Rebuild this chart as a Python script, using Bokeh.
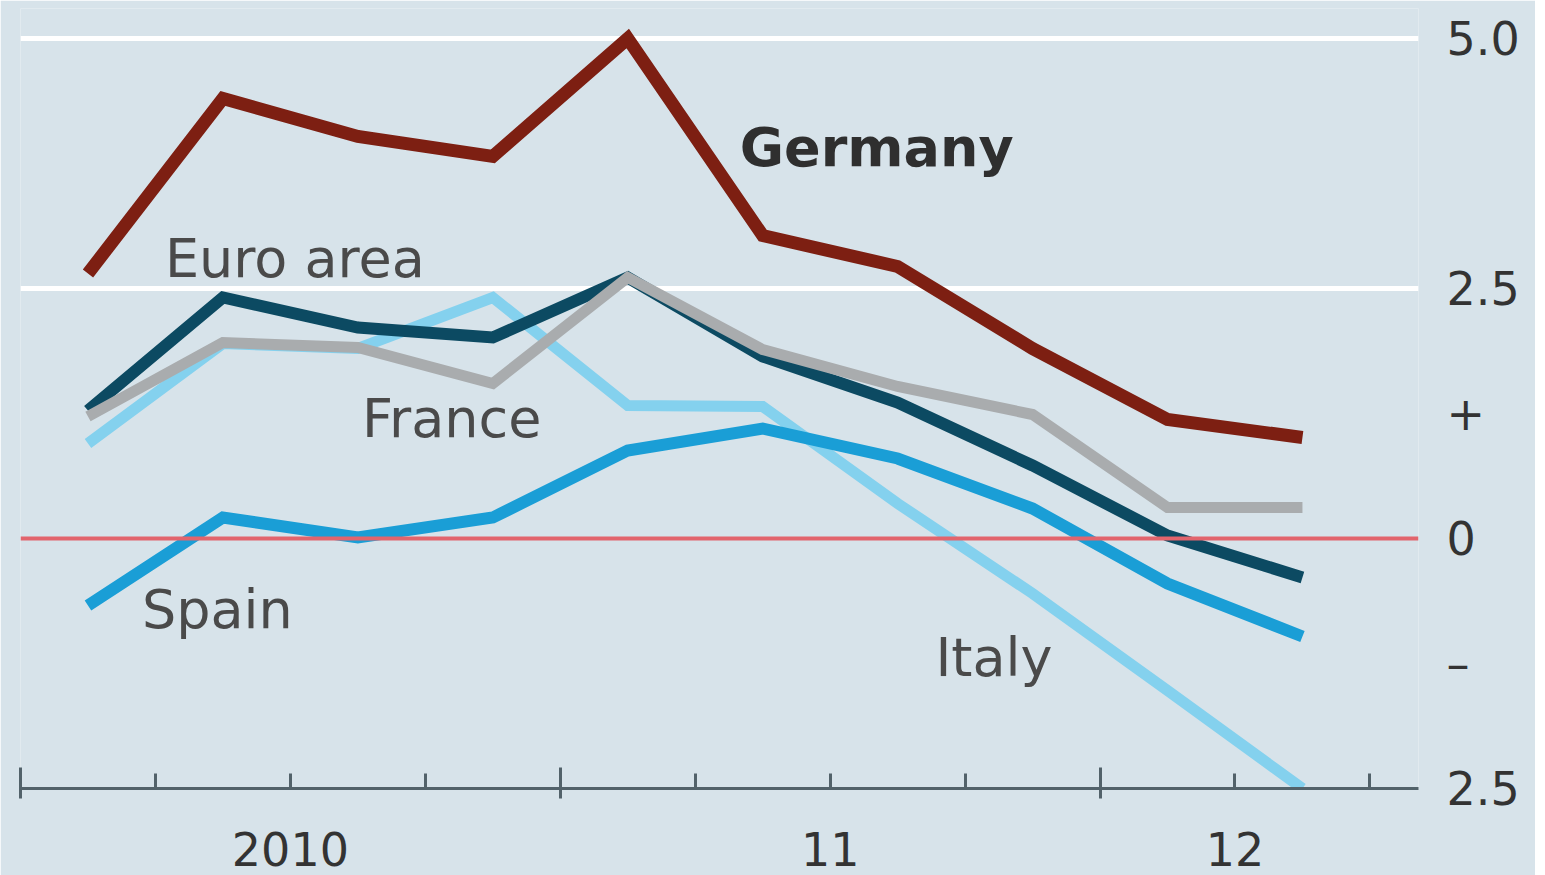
from bokeh.plotting import figure
from bokeh.models import Range1d, FixedTicker, LinearAxis, Span
from bokeh.core.properties import value
from bokeh.embed import file_html
from bokeh.resources import INLINE

# ---------------- data ----------------
quarters = ["2010 Q1", "2010 Q2", "2010 Q3", "2010 Q4",
            "2011 Q1", "2011 Q2", "2011 Q3", "2011 Q4",
            "2012 Q1", "2012 Q2"]
germany   = [2.65, 4.40, 4.02, 3.82, 5.00, 3.03, 2.72, 1.90, 1.19, 1.01]
euro_area = [1.28, 2.41, 2.11, 2.01, 2.61, 1.82, 1.36, 0.73, 0.03, -0.39]
france    = [1.22, 1.96, 1.91, 1.55, 2.61, 1.89, 1.52, 1.24, 0.31, 0.31]
italy     = [0.95, 1.95, 1.90, 2.41, 1.33, 1.32, 0.35, -0.55, -1.52, -2.50]
spain     = [-0.67, 0.21, 0.01, 0.21, 0.88, 1.10, 0.80, 0.30, -0.45, -0.98]

year_labels = ["2010", "11", "12"]
y_tick_values = [-2.5, -1.25, 0.0, 1.25, 2.5, 5.0]
y_tick_labels = ["2.5", "\u2013", "0", "+", "2.5", "5.0"]

# ---------------- derived positions ----------------
x = [i + 0.5 for i in range(len(quarters))]
year_starts = [float(i) for i, q in enumerate(quarters) if q.endswith("Q1")]
year_pos = []
for yl in year_labels:
    short = yl[-2:]
    xs = [xi for xi, q in zip(x, quarters) if q[2:4] == short]
    year_pos.append(sum(xs) / len(xs))
minor = [float(i) for i in range(1, 11) if float(i) not in year_starts]

BG = "#d7e3ea"
FONT = "DejaVu Sans"
AXC = "#52626a"

p = figure(frame_width=1398, frame_height=780,
           x_range=Range1d(0, 10.36), y_range=Range1d(-2.5, 5.3),
           output_backend="svg", toolbar_location=None,
           y_axis_location="right",
           min_border_left=20, min_border_right=117,
           min_border_top=8, min_border_bottom=87,
           background_fill_color=BG, border_fill_color=BG,
           outline_line_color=None)

# grid
p.xgrid.grid_line_color = None
p.ygrid[0].ticker = FixedTicker(ticks=[2.5, 5.0])
p.ygrid.grid_line_color = "white"
p.ygrid.grid_line_width = 5
p.add_layout(Span(location=0, dimension="width", line_color="#e2646c", line_width=4))

# x axis (ticks)
xa = p.xaxis[0]
xa.ticker = FixedTicker(ticks=year_starts, minor_ticks=minor)
xa.axis_line_color = AXC
xa.axis_line_width = 3
xa.major_tick_line_color = AXC
xa.major_tick_line_width = 3
xa.major_tick_in = 21
xa.major_tick_out = 10
xa.minor_tick_line_color = AXC
xa.minor_tick_line_width = 3
xa.minor_tick_in = 15
xa.minor_tick_out = 0
xa.major_label_overrides = {t: "" for t in year_starts}
xa.major_label_text_font_size = "1px"
xa.major_label_standoff = 0

# x axis (year labels)
xl = LinearAxis(ticker=FixedTicker(ticks=year_pos),
                major_label_overrides=dict(zip(year_pos, year_labels)),
                axis_line_color=None, major_tick_line_color=None,
                minor_tick_line_color=None,
                major_label_text_font=FONT,
                major_label_text_font_size="46px",
                major_label_text_color="#333333",
                major_label_standoff=27)
p.add_layout(xl, "below")

# y axis on right
ya = p.yaxis[0]
ya.ticker = FixedTicker(ticks=y_tick_values)
ya.major_label_overrides = dict(zip(y_tick_values, y_tick_labels))
ya.axis_line_color = None
ya.major_tick_line_color = None
ya.minor_tick_line_color = None
ya.major_label_standoff = 22
ya.major_label_text_font = FONT
ya.major_label_text_font_size = "46px"
ya.major_label_text_color = "#333333"

# lines
series = [
    (italy, "#84d1ee", 11),
    (spain, "#1a9ed6", 12),
    (euro_area, "#0c4a62", 12),
    (france, "#a9acae", 11),
    (germany, "#7d1f12", 13),
]
for vals, col, w in series:
    p.line(x, vals, line_color=col, line_width=w, line_join="miter", line_cap="butt")

# labels
labels = [
    ("Germany", 5.33, 3.91, "bold", "#2f2f2f"),
    ("Euro area", 1.07, 2.80, "normal", "#4a4a4a"),
    ("France", 2.53, 1.20, "normal", "#4a4a4a"),
    ("Spain", 0.90, -0.71, "normal", "#4a4a4a"),
    ("Italy", 6.78, -1.19, "normal", "#4a4a4a"),
]
for txt, lx, ly, wt, col in labels:
    p.text(x=[lx], y=[ly], text=[txt], text_font=value(FONT),
           text_font_size="54px", text_font_style=wt, text_color=col,
           text_align="left", text_baseline="middle")

open("out.html", "w").write(file_html(p, INLINE))
